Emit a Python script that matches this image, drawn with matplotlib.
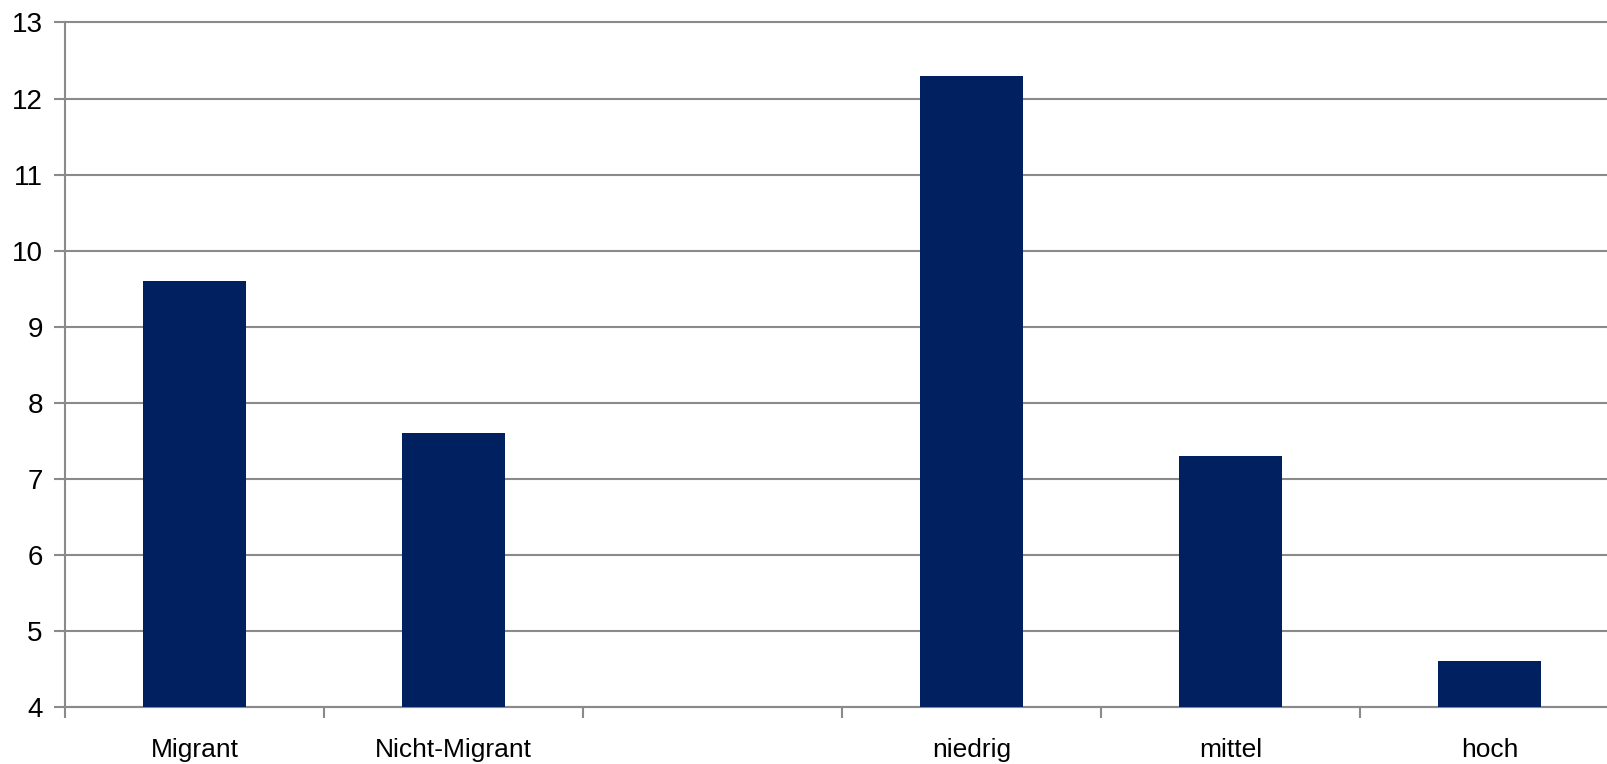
import matplotlib
matplotlib.use('Agg')
import matplotlib.pyplot as plt

# chart data
categories = ['Migrant', 'Nicht-Migrant', '', 'niedrig', 'mittel', 'hoch']
values = [9.6, 7.6, None, 12.3, 7.3, 4.6]
y_ticks = [4, 5, 6, 7, 8, 9, 10, 11, 12, 13]

BAR = '#002060'
GRID = '#8a8a8a'

plt.rcParams['font.family'] = ['Liberation Sans Narrow', 'Liberation Sans', 'DejaVu Sans']

fig = plt.figure(figsize=(16.07, 7.64), dpi=100)
ax = fig.add_axes([65 / 1607, 57 / 764, 1542 / 1607, 684.5 / 764])

xs = [i for i, v in enumerate(values) if v is not None]
hs = [v - 4 for v in values if v is not None]
ax.bar(xs, hs, bottom=4, width=0.4, color=BAR, zorder=3)

ax.set_ylim(4, 13)
ax.set_yticks(y_ticks)
ax.set_yticklabels([str(t) for t in y_ticks])
ax.set_xlim(-0.5, -0.5 + 1542 / 259)
ax.set_xticks(range(len(categories)))
ax.set_xticklabels(categories)
# boundary ticks between slots
ax.set_xticks([i - 0.5 for i in range(len(categories))], minor=True)

ax.grid(axis='y', color=GRID, linewidth=1.5, zorder=0)
for gl in ax.get_ygridlines():
    gl.set_clip_on(False)
for s in ['top', 'right']:
    ax.spines[s].set_visible(False)
for s in ['left', 'bottom']:
    ax.spines[s].set_color(GRID)
    ax.spines[s].set_linewidth(1.5)

ax.tick_params(axis='y', length=8, width=1.5, color=GRID, labelsize=20, pad=8)
ax.tick_params(axis='x', which='major', length=0, labelsize=19, pad=22)
ax.tick_params(axis='x', which='minor', length=8, width=1.5, color=GRID)

fig.savefig('out.png', dpi=100)
